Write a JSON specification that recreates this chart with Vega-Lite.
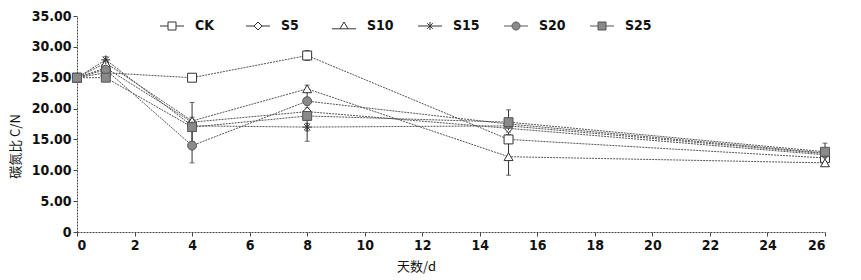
{
  "$schema": "https://vega.github.io/schema/vega-lite/v6.json",
  "width": 748,
  "height": 216,
  "autosize": {"type": "none"},
  "padding": {"left": 77, "top": 16, "right": 36, "bottom": 48},
  "background": "white",
  "config": {
    "view": {"stroke": null},
    "font": "'Liberation Sans Narrow', 'DejaVu Sans Condensed', 'Liberation Sans', sans-serif",
    "axis": {"grid": false, "domainColor": "#444", "domainDash": [2, 1], "tickColor": "#444", "labelFont": "'Liberation Sans Narrow', 'DejaVu Sans Condensed', 'Liberation Sans', sans-serif", "labelFontSize": 14, "labelFontWeight": "bold", "labelColor": "#111", "titleFont": "Noto Sans CJK SC", "titleFontWeight": "normal", "titleFontSize": 13, "titleColor": "#111"}
  },
  "data": {
    "values": [
      {"day": 0, "series": "CK", "value": 25.0, "err": 0.3},
      {"day": 1, "series": "CK", "value": 25.8, "err": 0.3},
      {"day": 4, "series": "CK", "value": 25.0, "err": 0.4},
      {"day": 8, "series": "CK", "value": 28.6, "err": 0.8},
      {"day": 15, "series": "CK", "value": 15.0, "err": 0.5},
      {"day": 26, "series": "CK", "value": 12.0, "err": 0.4},
      {"day": 0, "series": "S5", "value": 25.0, "err": 0.3},
      {"day": 1, "series": "S5", "value": 26.6, "err": 0.4},
      {"day": 4, "series": "S5", "value": 17.8, "err": 3.2},
      {"day": 8, "series": "S5", "value": 19.5, "err": 0.6},
      {"day": 15, "series": "S5", "value": 16.8, "err": 0.6},
      {"day": 26, "series": "S5", "value": 12.5, "err": 0.4},
      {"day": 0, "series": "S10", "value": 25.0, "err": 0.3},
      {"day": 1, "series": "S10", "value": 27.4, "err": 0.4},
      {"day": 4, "series": "S10", "value": 18.0, "err": 0.6},
      {"day": 8, "series": "S10", "value": 23.2, "err": 0.6},
      {"day": 15, "series": "S10", "value": 12.2, "err": 3.0},
      {"day": 26, "series": "S10", "value": 11.2, "err": 0.4},
      {"day": 0, "series": "S15", "value": 25.0, "err": 0.3},
      {"day": 1, "series": "S15", "value": 27.9, "err": 0.5},
      {"day": 4, "series": "S15", "value": 17.2, "err": 0.6},
      {"day": 8, "series": "S15", "value": 17.0, "err": 0.6},
      {"day": 15, "series": "S15", "value": 17.2, "err": 0.6},
      {"day": 26, "series": "S15", "value": 12.7, "err": 0.4},
      {"day": 0, "series": "S20", "value": 25.0, "err": 0.3},
      {"day": 1, "series": "S20", "value": 26.3, "err": 0.4},
      {"day": 4, "series": "S20", "value": 14.0, "err": 2.8},
      {"day": 8, "series": "S20", "value": 21.2, "err": 0.6},
      {"day": 15, "series": "S20", "value": 17.5, "err": 0.6},
      {"day": 26, "series": "S20", "value": 12.8, "err": 0.5},
      {"day": 0, "series": "S25", "value": 25.0, "err": 0.3},
      {"day": 1, "series": "S25", "value": 25.0, "err": 0.4},
      {"day": 4, "series": "S25", "value": 17.0, "err": 0.6},
      {"day": 8, "series": "S25", "value": 18.8, "err": 4.1},
      {"day": 15, "series": "S25", "value": 17.8, "err": 2.0},
      {"day": 26, "series": "S25", "value": 13.0, "err": 1.4}
    ]
  },
  "encoding": {
    "x": {"field": "day", "type": "quantitative", "scale": {"domain": [0, 26], "nice": false},
      "axis": {"values": [0, 2, 4, 6, 8, 10, 12, 14, 16, 18, 20, 22, 24, 26], "title": "天数/d", "titleX": 339, "titleY": 28, "titleBaseline": "top", "tickSize": 4, "labelPadding": 2}},
    "y": {"field": "value", "type": "quantitative", "scale": {"domain": [0, 35], "nice": false},
      "axis": {"values": [0, 5, 10, 15, 20, 25, 30, 35], "labelExpr": "datum.value == 0 ? '0' : format(datum.value, '.2f')", "title": "碳氮比 C/N", "titleX": -62, "titleY": 130, "titleBaseline": "middle", "tickSize": 4}}
  },
  "resolve": {"scale": {"shape": "independent", "fill": "independent", "stroke": "independent"}},
  "layer": [
    {
      "mark": {"type": "line", "color": "#555", "strokeWidth": 1, "strokeDash": [2, 1]},
      "encoding": {"detail": {"field": "series"}}
    },
    {
      "mark": {"type": "errorbar", "ticks": {"color": "#333"}, "rule": {"color": "#333"}},
      "encoding": {"yError": {"field": "err"}, "detail": {"field": "series"}}
    },
    {
      "mark": {"type": "point", "filled": false, "strokeWidth": 1, "opacity": 1, "size": 80},
      "encoding": {
        "shape": {"field": "series", "type": "nominal",
          "scale": {"domain": ["CK", "S5", "S10", "S15", "S20", "S25"], "range": ["square", "diamond", "triangle-up", "M-1,0H1M0,-1V1M-0.7,-0.7L0.7,0.7M-0.7,0.7L0.7,-0.7", "circle", "square"]},
          "legend": null},
        "fill": {"field": "series", "type": "nominal", "legend": null, "scale": {"domain": ["CK", "S5", "S10", "S15", "S20", "S25"], "range": ["white", "white", "white", "white", "#8a8a8a", "#8a8a8a"]}},
        "stroke": {"field": "series", "type": "nominal", "legend": null, "scale": {"domain": ["CK", "S5", "S10", "S15", "S20", "S25"], "range": ["#333", "#333", "#333", "#333", "#555", "#555"]}}
      }
    },
    {
      "mark": {"type": "point", "filled": false, "strokeWidth": 1, "opacity": 0, "size": 80},
      "encoding": {
        "shape": {"field": "series", "type": "nominal",
          "scale": {"domain": ["CK", "S5", "S10", "S15", "S20", "S25"], "range": ["M-3,0H-1M1,0H3M-1,-1H1V1H-1Z", "M-3,0H-1M1,0H3M0,-1L1,0L0,1L-1,0Z", "M-3,0.7H-1M1,0.7H3M0,-1L1,0.7H-1Z", "M-3,0H3M0,-1V1M-0.7,-0.7L0.7,0.7M-0.7,0.7L0.7,-0.7", "M-3,0H-1M1,0H3M-1,0A1,1,0,1,0,1,0A1,1,0,1,0,-1,0Z", "M-3,0H-1M1,0H3M-1,-1H1V1H-1Z"]},
          "legend": {"orient": "none", "legendX": 88, "legendY": 3, "direction": "horizontal", "columns": 6, "gridAlign": "all", "title": null, "labelFont": "'Liberation Sans Narrow', 'DejaVu Sans Condensed', 'Liberation Sans', sans-serif", "labelFontSize": 14, "labelFontWeight": "bold", "labelColor": "#111", "columnPadding": 22, "symbolSize": 64, "labelOffset": 16, "symbolOpacity": 1, "symbolStrokeWidth": 1}},
        "fill": {"field": "series", "type": "nominal", "legend": {"orient": "none", "legendX": 88, "legendY": 3, "direction": "horizontal", "columns": 6, "title": null}, "scale": {"domain": ["CK", "S5", "S10", "S15", "S20", "S25"], "range": ["white", "white", "white", "white", "#8a8a8a", "#8a8a8a"]}},
        "stroke": {"field": "series", "type": "nominal", "legend": {"orient": "none", "legendX": 88, "legendY": 3, "direction": "horizontal", "columns": 6, "title": null}, "scale": {"domain": ["CK", "S5", "S10", "S15", "S20", "S25"], "range": ["#333", "#333", "#333", "#333", "#555", "#555"]}}
      }
    }
  ]
}
